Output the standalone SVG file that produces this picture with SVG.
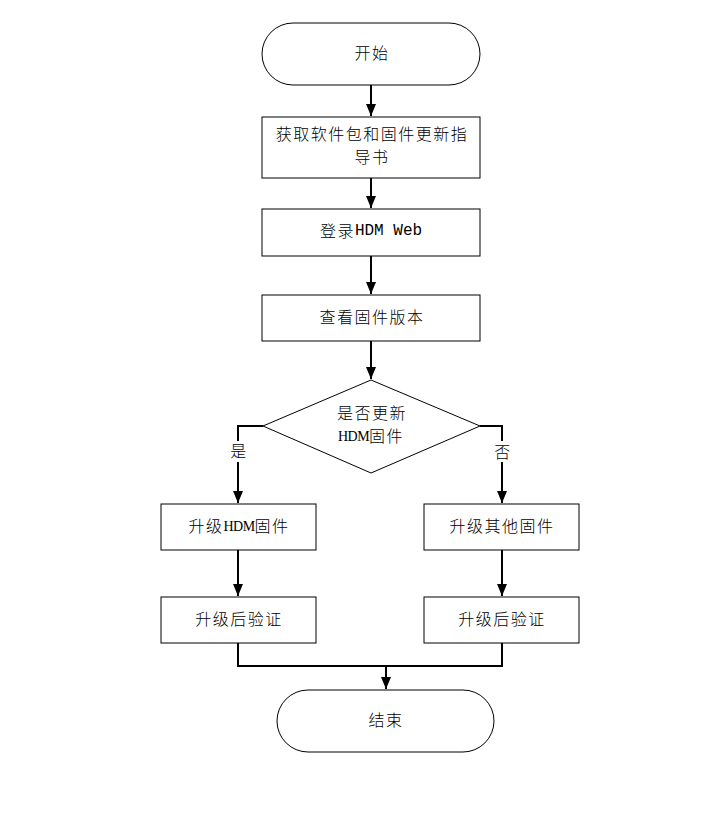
<svg xmlns="http://www.w3.org/2000/svg" width="703" height="824" viewBox="0 0 703 824">
<style>
.n{fill:#fff;stroke:#000;stroke-width:1}
.t{font-family:"Liberation Serif","Noto Sans CJK SC",serif;font-size:16px;font-weight:300;letter-spacing:1.5px;fill:#000;text-anchor:middle;dominant-baseline:central}
.m{font-family:"Liberation Mono","Noto Sans CJK SC",monospace;font-weight:400;letter-spacing:0}
.h{letter-spacing:-0.5px;font-size:14px;font-weight:400}
.c{fill:none;stroke:#000;stroke-width:2}
</style>
<defs>
<marker id="b" markerWidth="12" markerHeight="10" refX="12" refY="5" orient="auto" markerUnits="userSpaceOnUse" viewBox="0 0 12 10">
<path d="M0,0 L12,5 L0,10 Z" fill="#000"/>
</marker>
</defs>
<rect width="703" height="824" fill="#fff"/>
<g id="connectors">
<path class="c" d="M371,85 V116" marker-end="url(#b)"/>
<path class="c" d="M371,178 V208" marker-end="url(#b)"/>
<path class="c" d="M371,256 V294" marker-end="url(#b)"/>
<path class="c" d="M371,341 V379" marker-end="url(#b)"/>
<path class="c" d="M263,426 H238 V441"/>
<path class="c" d="M238,462 V503" marker-end="url(#b)"/>
<path class="c" d="M480,426 H502 V441"/>
<path class="c" d="M502,462 V503" marker-end="url(#b)"/>
<path class="c" d="M238,550 V596" marker-end="url(#b)"/>
<path class="c" d="M502,550 V596" marker-end="url(#b)"/>
<path class="c" d="M238,643 V666 H502 V643"/>
<path class="c" d="M386,666 V689" marker-end="url(#b)"/>
<text class="t" x="239" y="451">是</text>
<text class="t" x="503" y="452">否</text>
</g>
<g id="start"><rect class="n" x="262" y="23" width="218" height="62" rx="31"/><text class="t" x="372" y="53">开始</text></g>
<g id="get"><rect class="n" x="262" y="117" width="218" height="61"/><text class="t" x="372" y="134">获取软件包和固件更新指</text><text class="t" x="372" y="157">导书</text></g>
<g id="login"><rect class="n" x="262" y="209" width="218" height="47"/><text class="t" x="371" y="231">登录<tspan class="m">HDM Web</tspan></text></g>
<g id="view"><rect class="n" x="262" y="295" width="218" height="46"/><text class="t" x="372" y="317">查看固件版本</text></g>
<g id="decide"><polygon class="n" points="371,380 480,426 371,473 263,426"/><text class="t" x="372" y="413">是否更新</text><text class="t" x="371" y="436"><tspan class="h">HDM</tspan>固件</text></g>
<g id="upHDM"><rect class="n" x="161" y="504" width="155" height="46"/><text class="t" x="239" y="526">升级<tspan class="h">HDM</tspan>固件</text></g>
<g id="upOther"><rect class="n" x="424" y="504" width="155" height="46"/><text class="t" x="502" y="526">升级其他固件</text></g>
<g id="verifyL"><rect class="n" x="161" y="597" width="155" height="46"/><text class="t" x="239" y="619">升级后验证</text></g>
<g id="verifyR"><rect class="n" x="424" y="597" width="155" height="46"/><text class="t" x="502" y="619">升级后验证</text></g>
<g id="end"><rect class="n" x="277" y="690" width="217" height="62" rx="31"/><text class="t" x="386" y="720">结束</text></g>
</svg>
